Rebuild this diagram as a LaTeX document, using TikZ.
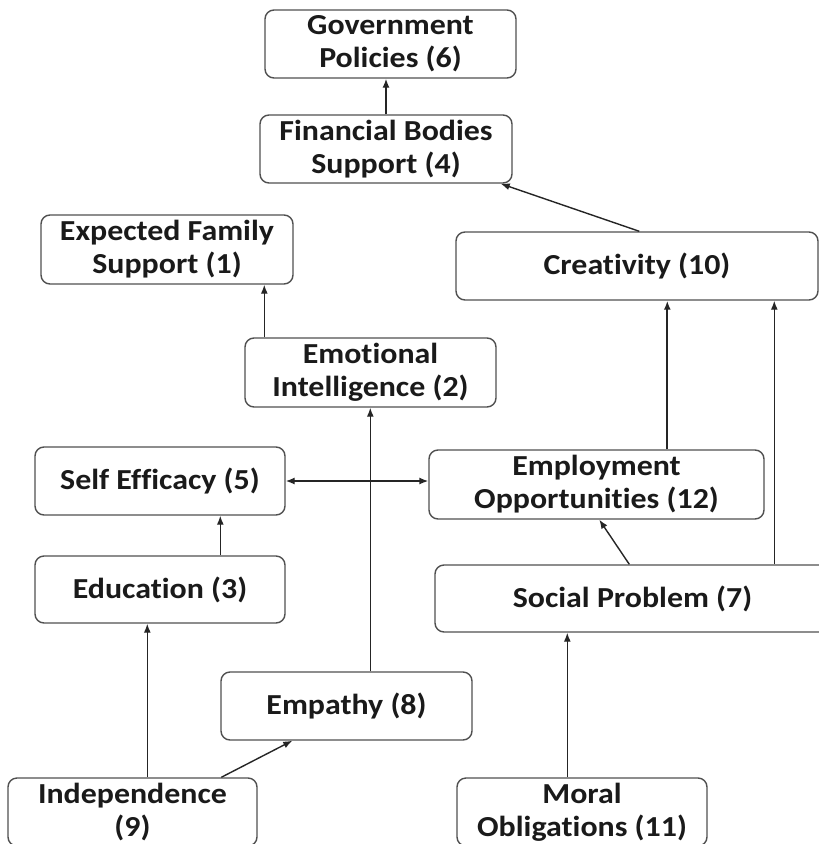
\documentclass[tikz,border=0pt]{standalone}
\usepackage{fontspec}
\setmainfont{Carlito}[FakeStretch=1.1, Ligatures={NoCommon}]
\usetikzlibrary{arrows.meta}
\definecolor{boxgray}{HTML}{505050}
\definecolor{arrgray}{HTML}{252525}
\definecolor{txt}{HTML}{1A1A1A}
\begin{document}
\begin{tikzpicture}[x=1pt,y=-1pt,
 box/.style={draw=boxgray, line width=1.4pt, rounded corners=9pt, align=center, inner sep=0pt,
   font=\fontsize{29}{33}\selectfont\bfseries, text=txt},
 arr/.style={draw=arrgray, line width=1.4pt, -{Latex[length=9pt,width=7pt]}},
 darr/.style={draw=arrgray, line width=1.4pt, {Latex[length=9pt,width=7pt]}-{Latex[length=9pt,width=7pt]}}
]
\useasboundingbox (0,0) rectangle (819,844);
\clip (0,0) rectangle (819,844);
\fill[white] (0,0) rectangle (819,844);

\node[box, minimum width=251pt, minimum height=68pt] (gov) at (390.5,44) {Government\\Policies (6)};
\node[box, minimum width=252pt, minimum height=68pt] (fin) at (386,149) {Financial Bodies\\Support (4)};
\node[box, minimum width=252pt, minimum height=69pt] (fam) at (167,249.5) {Expected Family\\Support (1)};
\node[box, minimum width=362pt, minimum height=68pt] (cre) at (637,266) {Creativity (10)};
\node[box, minimum width=251pt, minimum height=69pt] (emo) at (370.5,372.5) {Emotional\\Intelligence (2)};
\node[box, minimum width=250pt, minimum height=68pt] (eff) at (160,481) {Self Efficacy (5)};
\node[box, minimum width=335pt, minimum height=69pt] (emp) at (596.5,484.5) {Employment\\Opportunities (12)};
\node[box, minimum width=250pt, minimum height=67pt] (edu) at (160,589.5) {Education (3)};
\node[box, minimum width=395pt, minimum height=67pt] (soc) at (632.5,598.5) {Social Problem (7)};
\node[box, minimum width=251pt, minimum height=68pt] (empa) at (346.5,706) {Empathy (8)};
\node[box, minimum width=249pt, minimum height=68pt] (ind) at (132.5,812) {Independence\\(9)};
\node[box, minimum width=250pt, minimum height=68pt] (mor) at (582,812) {Moral\\Obligations (11)};

\coordinate (c1) at ([xshift=184pt]cre.north west);
\coordinate (c2) at ([xshift=-12pt]fin.south east);
\coordinate (c3) at ([xshift=20pt]emo.north west);
\coordinate (c4) at ([xshift=239pt]emp.north west);
\coordinate (c5) at ([xshift=340pt]soc.north west);
\coordinate (c6) at ([xshift=195pt]soc.north west);
\coordinate (c7) at ([xshift=171pt]emp.south west);
\coordinate (c8) at ([xshift=186pt]edu.north west);
\coordinate (c9) at ([xshift=150pt]empa.north west);
\coordinate (c10) at ([xshift=140pt]ind.north west);
\coordinate (c11) at ([xshift=214pt]ind.north west);
\coordinate (c12) at ([xshift=72pt]empa.south west);
\coordinate (c13) at ([xshift=111pt]mor.north west);

\draw[arr] (fin.north) -- (fin.north |- gov.south);
\draw[arr] (c1) -- (c2);
\draw[arr] (c3) -- (c3 |- fam.south);
\draw[arr, line width=2.2pt] (c4) -- (c4 |- cre.south);
\draw[arr] (c5) -- (c5 |- cre.south);
\draw[arr] (c6) -- (c7);
\draw[darr] (eff.east) -- (eff.east -| emp.west);
\draw[arr] (c8) -- (c8 |- eff.south);
\draw[arr] (c9) -- (c9 |- emo.south);
\draw[arr] (c10) -- (c10 |- edu.south);
\draw[arr] (c11) -- (c12);
\draw[arr] (c13) -- (c13 |- soc.south);
\end{tikzpicture}
\end{document}
